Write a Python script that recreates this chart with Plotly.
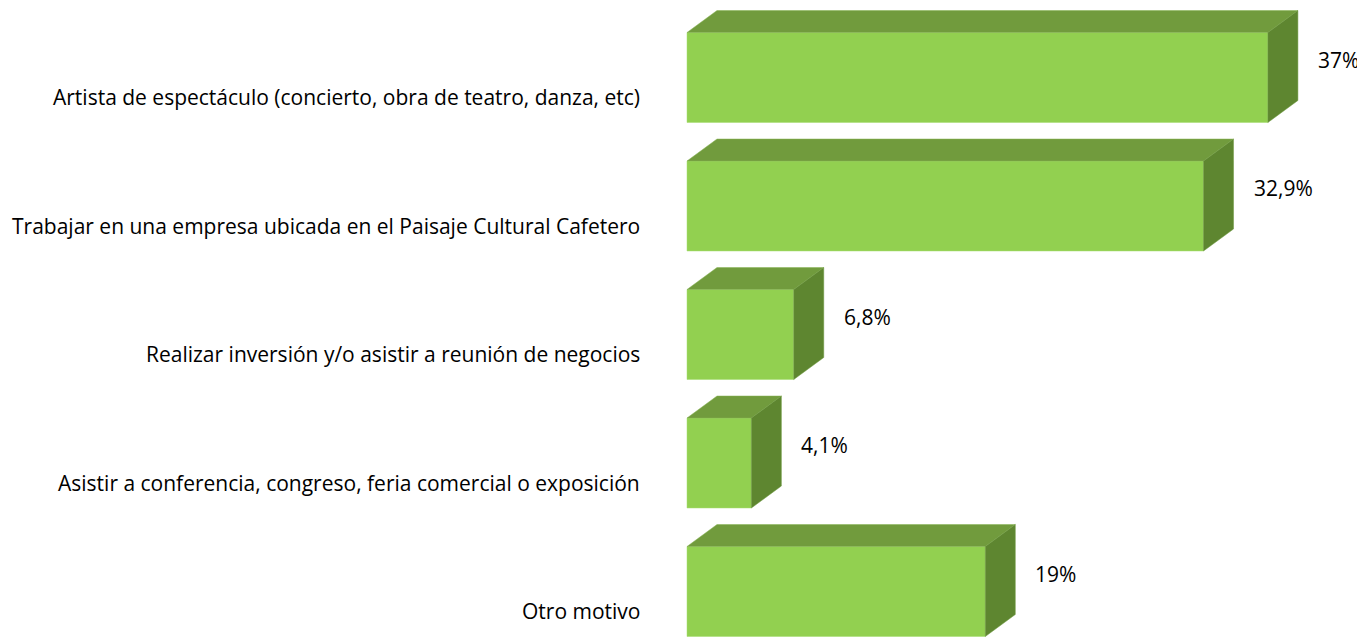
import plotly.graph_objects as go

categories = [
    "Artista de espectáculo (concierto, obra de teatro, danza, etc)",
    "Trabajar en una empresa ubicada en el Paisaje Cultural Cafetero",
    "Realizar inversión y/o asistir a reunión de negocios",
    "Asistir a conferencia, congreso, feria comercial o exposición",
    "Otro motivo",
]
values = [37.0, 32.9, 6.8, 4.1, 19.0]
value_labels = ["37%", "32,9%", "6,8%", "4,1%", "19%"]

FRONT = "#92d050"
TOP = "#719b3d"
SIDE = "#5e8630"

# page body has an 8px margin, so the figure is shifted by 8px
OFF = 8
W, H = 1365 - OFF, 638 - OFF
PX_PER_UNIT_X = 15.7
X0_PX = 687 - OFF
PX_PER_CAT = 128.5
Y0_PX = 77.5 - OFF

x_range = [-X0_PX / PX_PER_UNIT_X, (W - X0_PX) / PX_PER_UNIT_X]
y_range = [(H - Y0_PX) / PX_PER_CAT, -Y0_PX / PX_PER_CAT]

half_h = 45 / PX_PER_CAT
dx = 30 / PX_PER_UNIT_X
dy = -22 / PX_PER_CAT

fig = go.Figure()
for i, v in enumerate(values):
    y = i
    yt, yb = y - half_h, y + half_h
    fig.add_trace(go.Scatter(x=[0, v, v, 0, 0], y=[yt, yt, yb, yb, yt], fill="toself",
                             fillcolor=FRONT, mode="lines", line=dict(width=0.5, color="#a6dc70"),
                             hoverinfo="skip", showlegend=False))
    fig.add_trace(go.Scatter(x=[0, v, v + dx, dx, 0], y=[yt, yt, yt + dy, yt + dy, yt], fill="toself",
                             fillcolor=TOP, mode="lines", line=dict(width=0.5, color="#86b253"),
                             hoverinfo="skip", showlegend=False))
    fig.add_trace(go.Scatter(x=[v, v + dx, v + dx, v, v], y=[yt, yt + dy, yb + dy, yb, yt], fill="toself",
                             fillcolor=SIDE, mode="lines", line=dict(width=0.5, color="#6f9a40"),
                             hoverinfo="skip", showlegend=False))

annotations = []
for i, (c, v, lab) in enumerate(zip(categories, values, value_labels)):
    annotations.append(dict(x=-45 / PX_PER_UNIT_X, y=i + 0.155, text=c, xref="x", yref="y",
                            xanchor="right", yanchor="middle", showarrow=False,
                            font=dict(family="Open Sans", size=21, color="#000000")))
    annotations.append(dict(x=v + 48 / PX_PER_UNIT_X, y=i - 0.14, text=lab, xref="x", yref="y",
                            xanchor="left", yanchor="middle", showarrow=False,
                            font=dict(family="Open Sans", size=21, color="#000000")))

fig.update_layout(
    width=W, height=H,
    margin=dict(l=0, r=0, t=0, b=0),
    paper_bgcolor="white", plot_bgcolor="white",
    xaxis=dict(range=x_range, visible=False, fixedrange=True),
    yaxis=dict(range=y_range, visible=False, fixedrange=True),
    annotations=annotations,
    showlegend=False,
)

fig.write_html("out.html")
